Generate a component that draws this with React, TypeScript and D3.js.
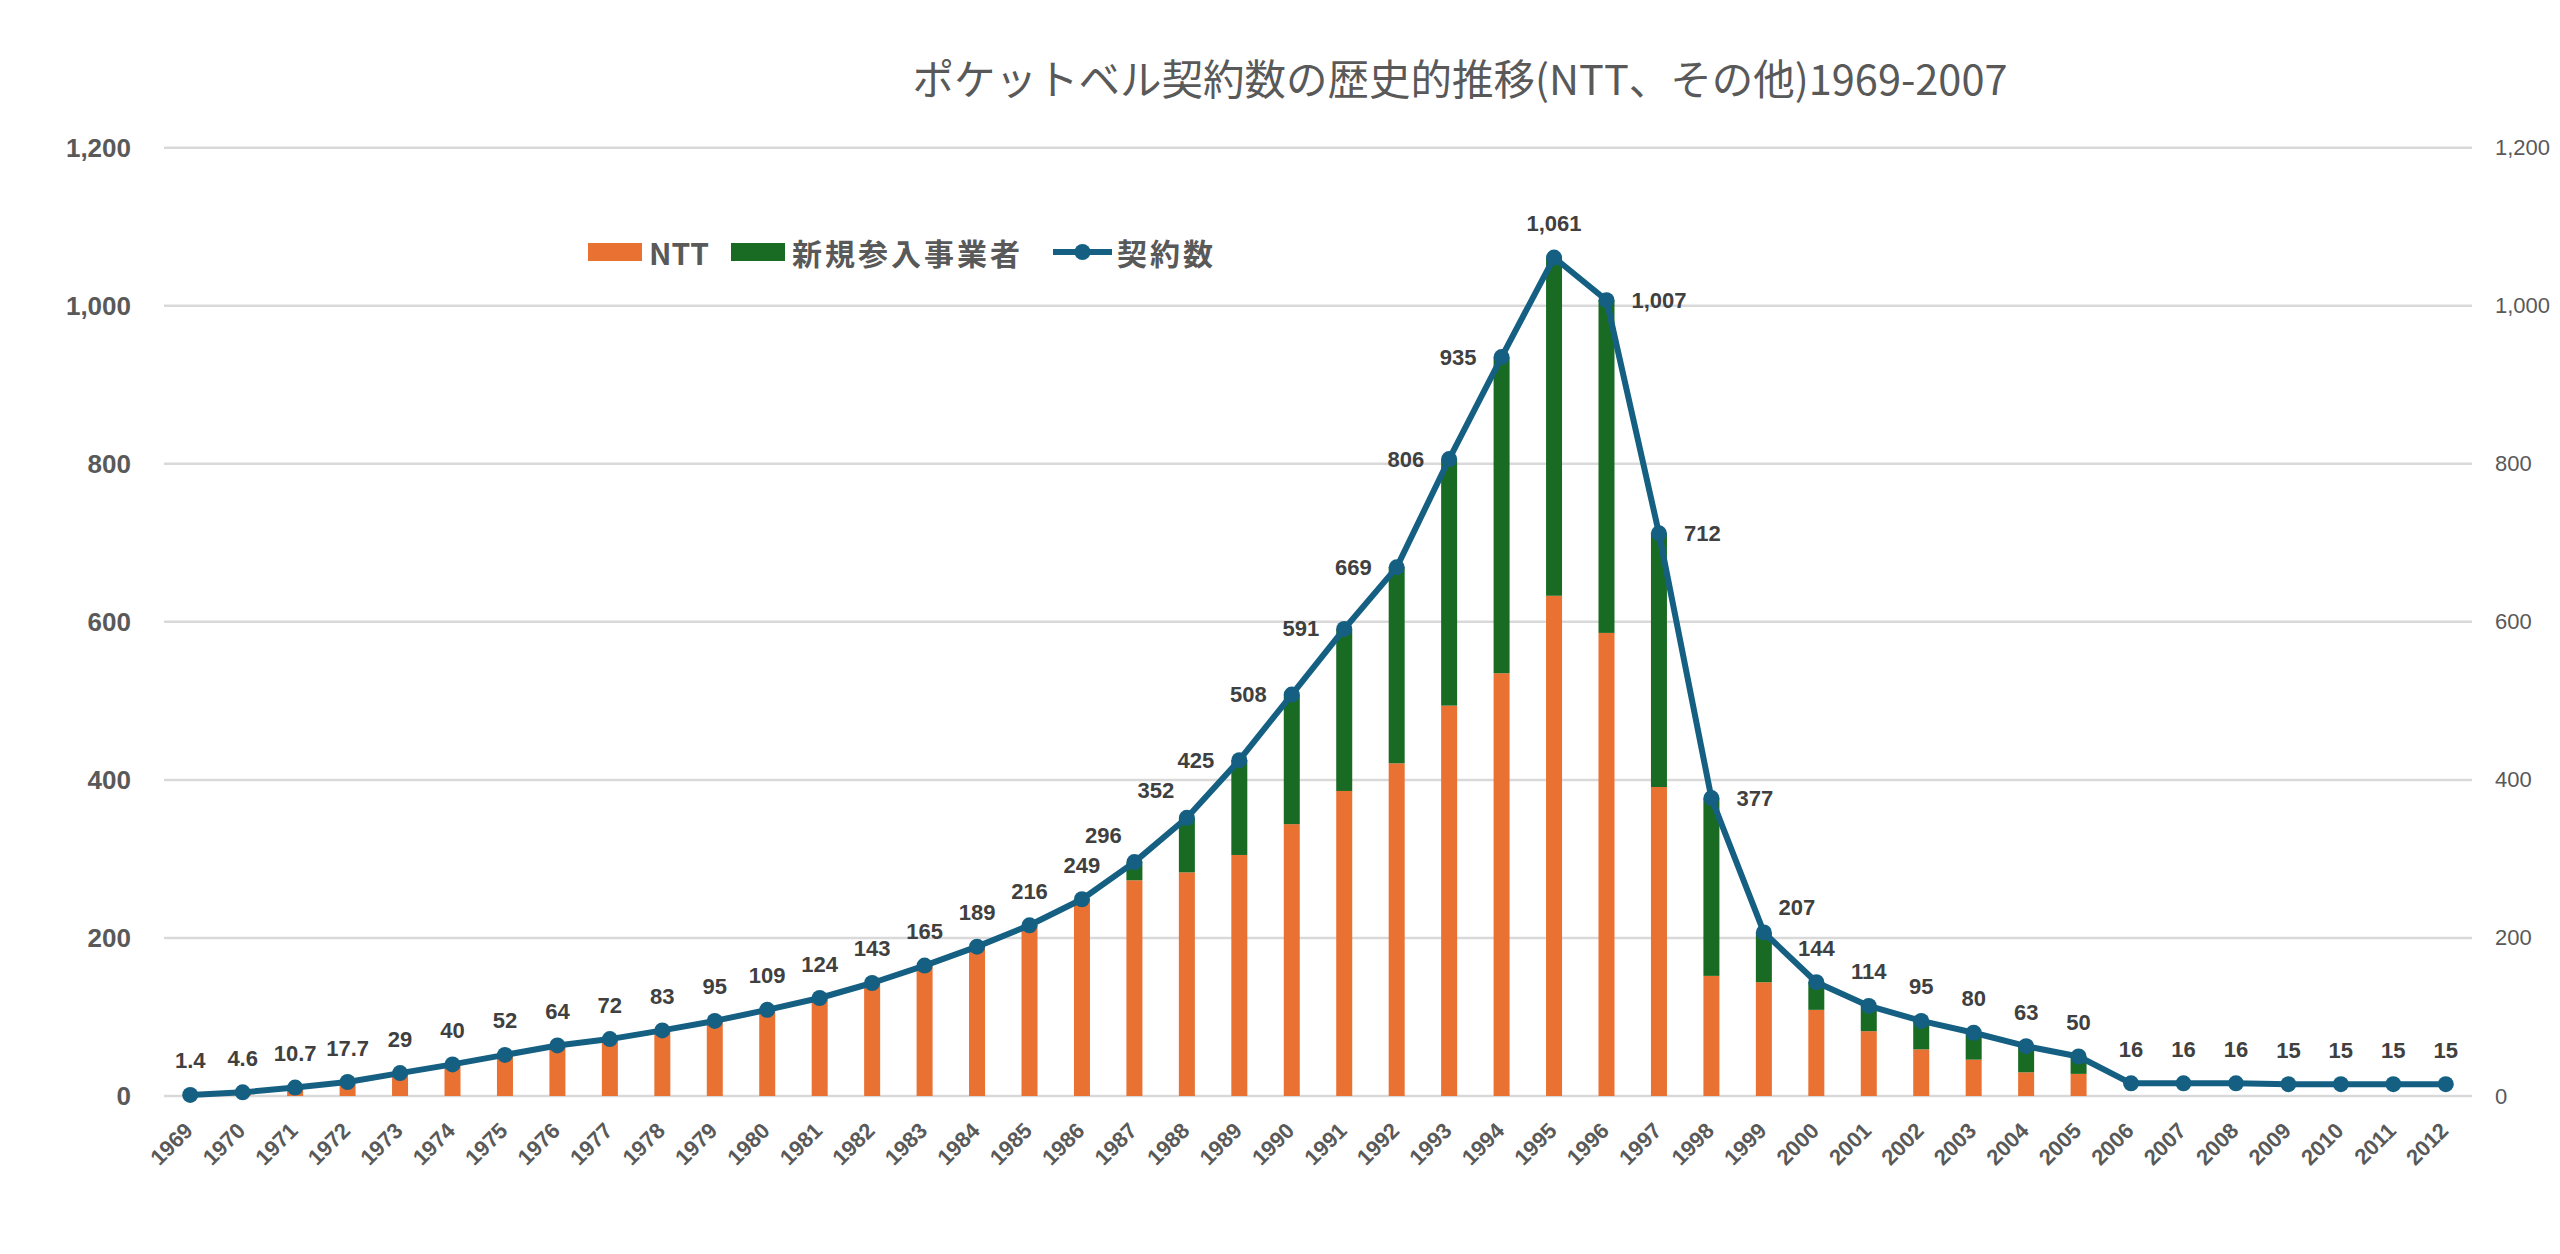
import { scaleBand, scaleLinear, line, stack, format } from "d3";

const years = [
  "1969", "1970", "1971", "1972", "1973", "1974", "1975", "1976", "1977", "1978", "1979",
  "1980", "1981", "1982", "1983", "1984", "1985", "1986", "1987", "1988", "1989",
  "1990", "1991", "1992", "1993", "1994", "1995", "1996", "1997", "1998", "1999",
  "2000", "2001", "2002", "2003", "2004", "2005", "2006", "2007", "2008", "2009",
  "2010", "2011", "2012",
];

// 契約数 (万件)
const totalSubs = [
  1.4, 4.6, 10.7, 17.7, 29, 40, 52, 64, 72, 83, 95,
  109, 124, 143, 165, 189, 216, 249, 296, 352, 425,
  508, 591, 669, 806, 935, 1061, 1007, 712, 377, 207,
  144, 114, 95, 80, 63, 50, 16, 16, 16, 15,
  15, 15, 15,
];

const nttSubs = [
  1.4, 4.6, 10.7, 17.7, 29, 40, 52, 64, 72, 83, 95,
  109, 124, 143, 165, 189, 216, 249, 273, 283, 305,
  344, 386, 421, 494, 535, 633, 586, 391, 152, 144,
  109, 82, 59, 46, 30, 28, 0, 0, 0, 0,
  0, 0, 0,
];

const newEntrantSubs = [
  0, 0, 0, 0, 0, 0, 0, 0, 0, 0, 0,
  0, 0, 0, 0, 0, 0, 0, 23, 69, 120,
  164, 205, 248, 312, 400, 428, 421, 321, 225, 63,
  35, 32, 36, 34, 33, 22, 0, 0, 0, 0,
  0, 0, 0,
];

const yTicks = [0, 200, 400, 600, 800, 1000, 1200];

const seriesNames = ["NTT", "新規参入事業者", "契約数"];

// where each data label sits relative to its point (default: above)
const labelPlacement: Record<string, string> = {
  "1987": "aboveLeft", "1988": "aboveLeft",
  "1989": "left", "1990": "left", "1991": "left", "1992": "left", "1993": "left", "1994": "left",
  "1996": "right", "1997": "right", "1998": "right",
  "1999": "aboveRight",
};

const W = 2560;
const H = 1254;
const margin = { left: 164, right: 2472, top: 147.7, bottom: 1096 };

const ORANGE = "#E97132";
const GREEN = "#196B24";
const BLUE = "#156082";
const GRAY = "#595959";
const LATIN = "'Liberation Sans', Arial, 'Noto Sans CJK JP', sans-serif";
const CJK = "'Noto Sans CJK JP', 'Liberation Sans', sans-serif";

export default function App() {
  const x = scaleBand<string>()
    .domain(years)
    .range([margin.left, margin.right])
    .paddingInner(0.695)
    .paddingOuter(0.3475);
  const y = scaleLinear().domain([0, 1200]).range([margin.bottom, margin.top]);
  const cx = (yr: string) => (x(yr) as number) + x.bandwidth() / 2;

  const rows = years.map((yr, i) => ({ year: yr, ntt: nttSubs[i], other: newEntrantSubs[i] }));
  const stacked = stack<any>().keys(["ntt", "other"])(rows);

  const linePath = line<number>()
    .x((_, i) => cx(years[i]))
    .y((v) => y(v))(totalSubs);

  const fmt = (v: number) => (v < 20 && v % 1 !== 0 ? format(".1f")(v) : format(",")(v));

  const labelFor = (yr: string, v: number, i: number) => {
    const px = cx(yr);
    const py = y(v);
    const p = labelPlacement[yr] || "above";
    let tx = px, ty = py - 34, anchor = "middle";
    if (p === "left") { tx = px - 25; ty = py; anchor = "end"; }
    if (p === "right") { tx = px + 25; ty = py; anchor = "start"; }
    if (p === "aboveLeft") { tx = px - 31; ty = py - 27; }
    if (p === "aboveRight") { tx = px + 33; ty = py - 25; }
    return (
      <text key={i} x={tx} y={ty} textAnchor={anchor} dominantBaseline="central"
        fontSize={22} fontWeight="bold" fill="#404040" fontFamily={LATIN}>
        {fmt(v)}
      </text>
    );
  };

  return (
    <>
      <style>{"body{margin:0;background:#fff}"}</style>
      <svg width={W} height={H} style={{ display: "block", background: "#fff" }}>
        <text x={1460} y={95} textAnchor="middle" fontSize={41.5} fill={GRAY} fontFamily={CJK}>
          ポケットベル契約数の歴史的推移(NTT、その他)1969-2007
        </text>

        {yTicks.map((t) => (
          <g key={t}>
            <line x1={margin.left} x2={margin.right} y1={y(t)} y2={y(t)} stroke="#d9d9d9" strokeWidth={2.5} />
            <text x={131} y={y(t)} textAnchor="end" dominantBaseline="central"
              fontSize={26} fontWeight="bold" fill={GRAY} fontFamily={LATIN}>
              {format(",")(t)}
            </text>
            <text x={2495} y={y(t)} dominantBaseline="central" fontSize={22} fill={GRAY} fontFamily={LATIN}>
              {format(",")(t)}
            </text>
          </g>
        ))}

        {stacked.map((s, si) => (
          <g key={s.key} fill={si === 0 ? ORANGE : GREEN}>
            {s.map((d, i) =>
              d[1] - d[0] > 0 ? (
                <rect key={i} x={x(years[i])} width={x.bandwidth()} y={y(d[1])} height={y(d[0]) - y(d[1])} />
              ) : null
            )}
          </g>
        ))}

        <path d={linePath || ""} fill="none" stroke={BLUE} strokeWidth={6} strokeLinejoin="round" />
        {totalSubs.map((v, i) => (
          <circle key={i} cx={cx(years[i])} cy={y(v)} r={8} fill={BLUE} />
        ))}

        {totalSubs.map((v, i) => labelFor(years[i], v, i))}

        {years.map((yr) => (
          <text key={yr} transform={`translate(${cx(yr) + 4},${1132}) rotate(-45)`} textAnchor="end"
            fontSize={22} fontWeight="bold" fill={GRAY} fontFamily={LATIN}>
            {yr}
          </text>
        ))}

        <g fontFamily={CJK} fontSize={30} fontWeight="bold" fill={GRAY}>
          <rect x={588} y={243} width={54} height={18} fill={ORANGE} />
          <text x={649} y={252} dominantBaseline="central">{seriesNames[0]}</text>
          <rect x={731} y={243} width={54} height={18} fill={GREEN} />
          <text x={792} y={252} dominantBaseline="central" letterSpacing={3}>{seriesNames[1]}</text>
          <line x1={1053} x2={1112} y1={252} y2={252} stroke={BLUE} strokeWidth={6} />
          <circle cx={1082.5} cy={252} r={8} fill={BLUE} />
          <text x={1117} y={252} dominantBaseline="central" letterSpacing={3}>{seriesNames[2]}</text>
        </g>
      </svg>
    </>
  );
}
